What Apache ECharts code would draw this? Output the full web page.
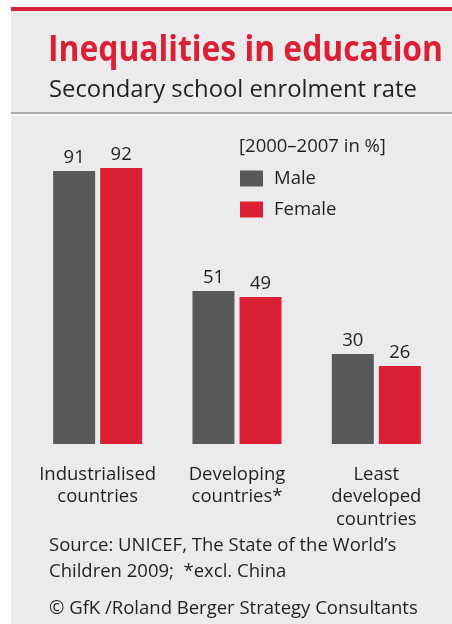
<!DOCTYPE html>
<html>
<head>
<meta charset="utf-8">
<style>
  html, body { margin: 0; padding: 0; background: #ffffff; }
  #chart { width: 452px; height: 624px; }
</style>
<script src="https://cdn.jsdelivr.net/npm/echarts@6/dist/echarts.min.js"></script>
</head>
<body>
<div id="chart"></div>
<script>
// Secondary school enrolment rate, 2000–2007, in %
const categories = ['Industrialised\ncountries', 'Developing\ncountries*', 'Least\ndeveloped\ncountries'];
const male = [91, 51, 30];
const female = [92, 49, 26];
const seriesNames = ['Male', 'Female'];

const titleText = 'Inequalities in education';
const subtitleText = 'Secondary school enrolment rate';
const periodText = '[2000\u20132007 in %]';
const sourceLines = [
  'Source: UNICEF, The State of the World\u2019s',
  'Children 2009;  *excl. China'
];
const creditText = '\u00a9 GfK /Roland Berger Strategy Consultants';

const FONT = '"Open Sans", "Noto Sans", sans-serif';
const PANEL = '#ebebed';
const RED = '#da2032';
const GREY = '#58595b';
const INK = '#231f20';
const TXT = 18.5;

// condense the bold headline slightly so it spans the panel width
function fitScale(text, font, targetWidth) {
  const ctx = document.createElement('canvas').getContext('2d');
  ctx.font = font;
  const w = ctx.measureText(text).width;
  return w > 0 ? targetWidth / w : 1;
}
const titleFont = 'bold 36px ' + FONT;
const titleScale = fitScale(titleText, titleFont, 395);

const chart = echarts.init(document.getElementById('chart'), null, { renderer: 'canvas' });

chart.setOption({
  backgroundColor: '#ffffff',
  animation: false,
  textStyle: { fontFamily: FONT },
  graphic: [
    // panel background
    { type: 'rect', z: -10, shape: { x: 11, y: 7, width: 441, height: 617 }, style: { fill: PANEL } },
    // red rule along the top
    { type: 'rect', z: -9, shape: { x: 11, y: 7, width: 441, height: 4 }, style: { fill: RED } },
    // grey divider under the header, with a light strip below it
    { type: 'rect', z: -9, shape: { x: 11, y: 112, width: 441, height: 2 }, style: { fill: '#a9a9ab' } },
    { type: 'rect', z: -9, shape: { x: 11, y: 114, width: 441, height: 2 }, style: { fill: '#f6f6f7' } },
    // header
    { type: 'text', x: 48, y: 51, scaleX: titleScale, style: { text: titleText, fill: RED, font: titleFont, verticalAlign: 'middle' } },
    { type: 'text', x: 49, y: 90, style: { text: subtitleText, fill: INK, font: '23.8px ' + FONT, verticalAlign: 'middle' } },
    // legend caption
    { type: 'text', x: 239, y: 147, style: { text: periodText, fill: INK, font: TXT + 'px ' + FONT, verticalAlign: 'middle' } },
    // footnotes
    { type: 'text', x: 49, y: 546, style: { text: sourceLines[0], fill: INK, font: TXT + 'px ' + FONT, verticalAlign: 'middle' } },
    { type: 'text', x: 49, y: 572, style: { text: sourceLines[1], fill: INK, font: TXT + 'px ' + FONT, verticalAlign: 'middle' } },
    { type: 'text', x: 49, y: 609, style: { text: creditText, fill: INK, font: TXT + 'px ' + FONT, verticalAlign: 'middle' } }
  ],
  legend: {
    orient: 'vertical',
    left: 240,
    top: 169,
    padding: 0,
    itemWidth: 23,
    itemHeight: 16,
    itemGap: 12,
    icon: 'rect',
    textStyle: { fontFamily: FONT, fontSize: TXT, color: INK, padding: [0, 0, 0, 6] },
    data: seriesNames
  },
  grid: { left: 28, right: 6, top: 144, bottom: 180, containLabel: false },
  xAxis: {
    type: 'category',
    data: categories,
    axisLine: { show: false },
    axisTick: { show: false },
    axisLabel: {
      interval: 0,
      margin: 19,
      fontFamily: FONT,
      fontSize: TXT,
      lineHeight: 22.5,
      color: INK,
      align: 'center',
      verticalAlign: 'top'
    }
  },
  yAxis: {
    type: 'value',
    min: 0,
    max: 100,
    show: false,
    splitLine: { show: false }
  },
  series: [
    {
      name: seriesNames[0],
      type: 'bar',
      data: male,
      barWidth: 42,
      barGap: '12%',
      itemStyle: { color: GREY },
      label: { show: true, position: 'top', distance: 4, fontFamily: FONT, fontSize: TXT, color: INK }
    },
    {
      name: seriesNames[1],
      type: 'bar',
      data: female,
      barWidth: 42,
      itemStyle: { color: RED },
      label: { show: true, position: 'top', distance: 4, fontFamily: FONT, fontSize: TXT, color: INK }
    }
  ]
});
</script>
</body>
</html>
